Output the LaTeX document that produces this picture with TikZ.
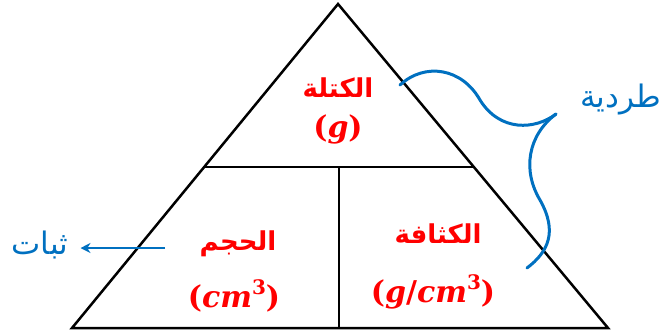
\documentclass[tikz,border=0pt]{standalone}
\usepackage{fontspec}
\usepackage{tikz}
\usetikzlibrary{arrows.meta,calc}
\TeXXeTstate=1
\newfontfamily\arabicfont[Script=Arabic]{DejaVu Sans}
\newfontfamily\unitfont{DejaVu Serif}
\definecolor{Red}{HTML}{FF0000}
\definecolor{Blue}{HTML}{0070C0}
\tikzset{
  qty/.style={text=Red,inner sep=0pt,font=\arabicfont\bfseries\fontsize{26}{31}\selectfont},
  unit/.style={text=Red,inner sep=0pt,font=\unitfont\bfseries\fontsize{30}{35}\selectfont},
  note/.style={text=Blue,inner sep=0pt,font=\arabicfont\fontsize{31}{36}\selectfont}
}
\newcommand{\upthree}{\raisebox{0.42em}{\fontsize{20}{24}\selectfont 3}}

\begin{document}
\begin{tikzpicture}[x=1pt,y=-1pt]
  \useasboundingbox (0,0) rectangle (671,333);
  % triangle
  \coordinate (apex) at (338,4);
  \coordinate (bl) at (72,328);
  \coordinate (br) at (608,328);
  \draw[line width=2.5pt,line join=miter] (apex) -- (bl) -- (br) -- cycle;
  \coordinate (ml) at ($(apex)!0.503!(bl)$);
  \coordinate (mr) at ($(apex)!0.503!(br)$);
  \draw[line width=2.5pt] (ml) -- (mr);
  \draw[line width=2.5pt] (339,167) -- (339,328);
  % quantities
  \node[qty] (mass) at (338,88) {\beginR الكتلة\endR};
  \node[unit] (massunit) at (338,129) {(\textit{g})};
  \node[qty] (vol) at (238,244) {\beginR الحجم\endR};
  \node[unit] (volunit) at (234,296) {(\textit{cm}\upthree)};
  \node[qty] (dens) at (438,234) {\beginR الكثافة\endR};
  \node[unit] (densunit) at (433,292) {(\textit{g}/\textit{cm}\upthree)};
  % notes
  \node[note,anchor=west] (direct) at (580,100) {\beginR طردية\endR};
  \node[note] (const) at (40,245) {\beginR ثبات\endR};
  \coordinate (arrstart) at (165,248);
  \draw[Blue,line width=2pt,-{Stealth[length=10pt,width=10pt]}] (arrstart) -- ([xshift=12pt]const.east |- arrstart);
  \coordinate (btop) at (400,85);
  \coordinate (btip) at (556,114);
  \coordinate (bbot) at (527,268);
  \draw[Blue,line width=3pt,line cap=round] (btop) .. controls (425,62) and (462,68) .. (480,100)
    .. controls (500,132) and (535,130) .. (btip);
  \draw[Blue,line width=3pt,line cap=round] (btip) .. controls (528,135) and (522,170) .. (540,200)
    .. controls (558,232) and (548,252) .. (bbot);
\end{tikzpicture}
\end{document}
